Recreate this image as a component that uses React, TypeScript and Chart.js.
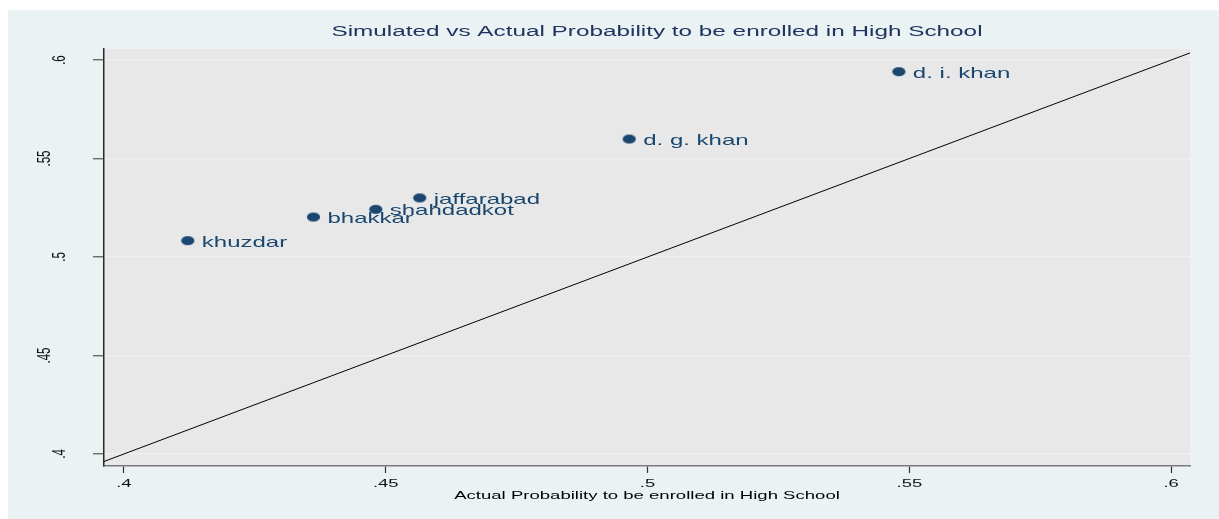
import React, { useEffect, useRef } from 'react';
import { Chart, registerables } from 'chart.js';

Chart.register(...registerables);

// ---- data ----
const districts = ['d. i. khan', 'd. g. khan', 'jaffarabad', 'shahdadkot', 'bhakkar', 'khuzdar'];
const actualProb = [0.548, 0.4965, 0.4565, 0.4481, 0.4362, 0.4122];
const simulatedProb = [0.5941, 0.5599, 0.53, 0.5242, 0.5203, 0.5083];
const xTickValues = [0.4, 0.45, 0.5, 0.55, 0.6];
const yTickValues = [0.4, 0.45, 0.5, 0.55, 0.6];
const xRange = [0.3962, 0.6036];
const yRange = [0.3939, 0.6056];
const diagonalRange = [0.3962, 0.6036];

const chartTitle = 'Simulated vs Actual Probability to be enrolled in High School';
const xAxisTitle = 'Actual Probability to be enrolled in High School';

const tickLabel = (v: number) => v.toString().replace(/^0/, '');

// ---- styles ----
const STRETCH = 1.6;
const FONT = '"Liberation Sans", Arial, Helvetica, sans-serif';
const OUTER_BG = '#EAF2F3';
const PLOT_BG = '#E8E8E8';
const MARKER = '#1A476F';

function drawText(
  ctx: CanvasRenderingContext2D,
  text: string,
  x: number,
  y: number,
  font: string,
  color: string,
  align: CanvasTextAlign,
  baseline: CanvasTextBaseline,
  rotate = false
) {
  ctx.save();
  ctx.translate(x, y);
  ctx.scale(STRETCH, 1);
  if (rotate) ctx.rotate(-Math.PI / 2);
  ctx.font = font;
  ctx.fillStyle = color;
  ctx.textAlign = align;
  ctx.textBaseline = baseline;
  ctx.fillText(text, 0, 0);
  ctx.restore();
}

function makeMarker(): HTMLCanvasElement {
  const c = document.createElement('canvas');
  const w = 15;
  const h = 11;
  c.width = w;
  c.height = h;
  const g = c.getContext('2d')!;
  g.fillStyle = MARKER;
  g.beginPath();
  g.ellipse(w / 2, h / 2, 6.6, 4.6, 0, 0, Math.PI * 2);
  g.fill();
  return c;
}

const decorPlugin = {
  id: 'stataDecor',
  beforeDraw(chart: any) {
    const { ctx, chartArea, width, height } = chart;
    ctx.save();
    ctx.fillStyle = OUTER_BG;
    ctx.fillRect(0, 0, width, height);
    ctx.fillStyle = PLOT_BG;
    ctx.fillRect(chartArea.left, chartArea.top, chartArea.right - chartArea.left, chartArea.bottom - chartArea.top);
    ctx.restore();
  },
  afterDraw(chart: any) {
    const { ctx, chartArea, scales } = chart;
    const xs = scales.x;
    const ys = scales.y;
    // title
    drawText(ctx, chartTitle, 649, 25.7, `15.2px ${FONT}`, '#1F3560', 'center', 'alphabetic');
    // x tick labels
    xTickValues.forEach((v) => {
      drawText(ctx, tickLabel(v), xs.getPixelForValue(v), 477.3, `11.5px ${FONT}`, '#111', 'center', 'alphabetic');
    });
    // y tick labels (rotated)
    ctx.save();
    ctx.font = `11.5px ${FONT}`;
    const yLabelWidths = yTickValues.map((v) => ctx.measureText(tickLabel(v)).width);
    ctx.restore();
    yTickValues.forEach((v, i) => {
      const x = 74 - 2.34 * yLabelWidths[i];
      drawText(ctx, tickLabel(v), x, ys.getPixelForValue(v), `11.5px ${FONT}`, '#111', 'center', 'middle', true);
    });
    // x axis title
    drawText(ctx, xAxisTitle, (chartArea.left + chartArea.right) / 2, 489, `11.6px ${FONT}`, '#000', 'center', 'alphabetic');
  },
  afterDatasetsDraw(chart: any) {
    const { ctx } = chart;
    const meta = chart.getDatasetMeta(1);
    meta.data.forEach((pt: any, i: number) => {
      drawText(ctx, districts[i], pt.x + 14, pt.y + 6, `15px ${FONT}`, MARKER, 'left', 'alphabetic');
    });
  },
};

export default function App() {
  const canvasRef = useRef<HTMLCanvasElement | null>(null);

  useEffect(() => {
    if (!canvasRef.current) return;
    const marker = makeMarker();
    const chart = new Chart(canvasRef.current, {
      type: 'scatter',
      data: {
        datasets: [
          {
            type: 'line',
            label: 'diagonal',
            data: diagonalRange.map((v) => ({ x: v, y: v })),
            borderColor: '#000',
            borderWidth: 1,
            pointRadius: 0,
            fill: false,
          } as any,
          {
            label: 'districts',
            data: actualProb.map((x, i) => ({ x, y: simulatedProb[i] })),
            pointStyle: marker as any,
            pointRadius: 7,
            backgroundColor: MARKER,
            borderColor: MARKER,
          },
        ],
      },
      options: {
        animation: false,
        responsive: true,
        maintainAspectRatio: false,
        layout: { padding: { left: 0, right: 29, top: 39, bottom: 0 } },
        plugins: {
          legend: { display: false },
          title: { display: false },
          tooltip: { enabled: false },
        },
        scales: {
          x: {
            type: 'linear',
            min: xRange[0],
            max: xRange[1],
            afterBuildTicks: (s: any) => {
              s.ticks = xTickValues.map((v) => ({ value: v }));
            },
            afterFit: (s: any) => {
              s.height = 53;
            },
            ticks: { display: false },
            grid: {
              drawOnChartArea: false,
              drawTicks: true,
              tickLength: 7,
              tickColor: '#333',
              tickWidth: 1.2,
            },
            border: { display: true, color: '#7a7a7a', width: 1.5 },
          },
          y: {
            type: 'linear',
            min: yRange[0],
            max: yRange[1],
            afterBuildTicks: (s: any) => {
              s.ticks = yTickValues.map((v) => ({ value: v }));
            },
            afterFit: (s: any) => {
              s.width = 96;
            },
            ticks: { display: false },
            grid: {
              drawOnChartArea: true,
              color: OUTER_BG,
              lineWidth: 1.5,
              drawTicks: true,
              tickLength: 11,
              tickColor: '#555',
              tickWidth: 1.2,
            },
            border: { display: true, color: '#2a2a2a', width: 1.5 },
          },
        },
      },
      plugins: [decorPlugin],
    });
    return () => chart.destroy();
  }, []);

  return (
    <div style={{ position: 'fixed', left: 8, top: 10, width: 1211, height: 509 }}>
      <canvas ref={canvasRef} />
    </div>
  );
}
